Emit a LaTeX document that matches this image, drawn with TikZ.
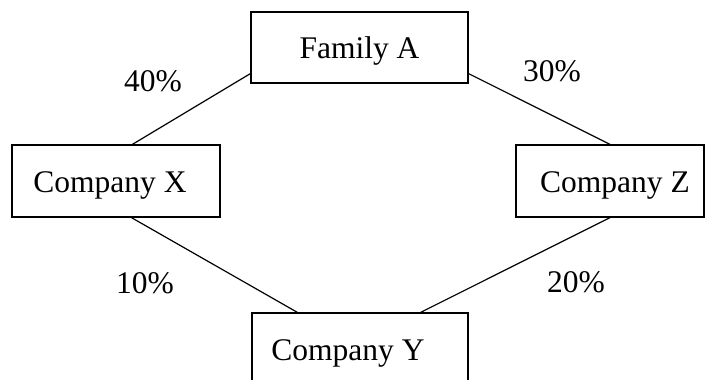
\documentclass[tikz,border=0pt]{standalone}
\usepackage{fontspec}
\setmainfont{Liberation Serif}
\begin{document}
\begin{tikzpicture}[x=1pt,y=-1pt,
  every node/.style={font=\fontsize{31.5}{36}\selectfont},
  box/.style={draw, line width=1.2pt, inner sep=0pt, minimum height=72pt, text height=22pt, text depth=0pt},
  pct/.style={inner sep=0pt},
  link/.style={line width=1.2pt}]
\useasboundingbox (0,0) rectangle (707,380);
\begin{scope}
\clip (0,0) rectangle (707,380);
\node[box, minimum width=217pt, minimum height=71pt] (A) at (359.5,47.5) {Family A};
\node[box, minimum width=208pt] (X) at (116,181) {\hspace*{-12pt}Company X};
\node[box, minimum width=188pt] (Z) at (610,181) {\hspace*{10pt}Company Z};
\node[box, minimum width=216pt] (Y) at (360,349) {\hspace*{-24pt}Company Y};
\end{scope}
\draw[link] ([xshift=121pt]X.north west) -- ([yshift=10pt]A.south west);
\draw[link] ([yshift=10pt]A.south east) -- (Z.north);
\draw[link] ([xshift=120pt]X.south west) -- ([xshift=46pt]Y.north west);
\draw[link] (Z.south) -- ([xshift=-48pt]Y.north east);
\node[pct] (p40) at (153,81) {40\%};
\node[pct] (p30) at (552,71) {30\%};
\node[pct] (p10) at (145,283) {10\%};
\node[pct] (p20) at (576,282) {20\%};
\end{tikzpicture}
\end{document}
